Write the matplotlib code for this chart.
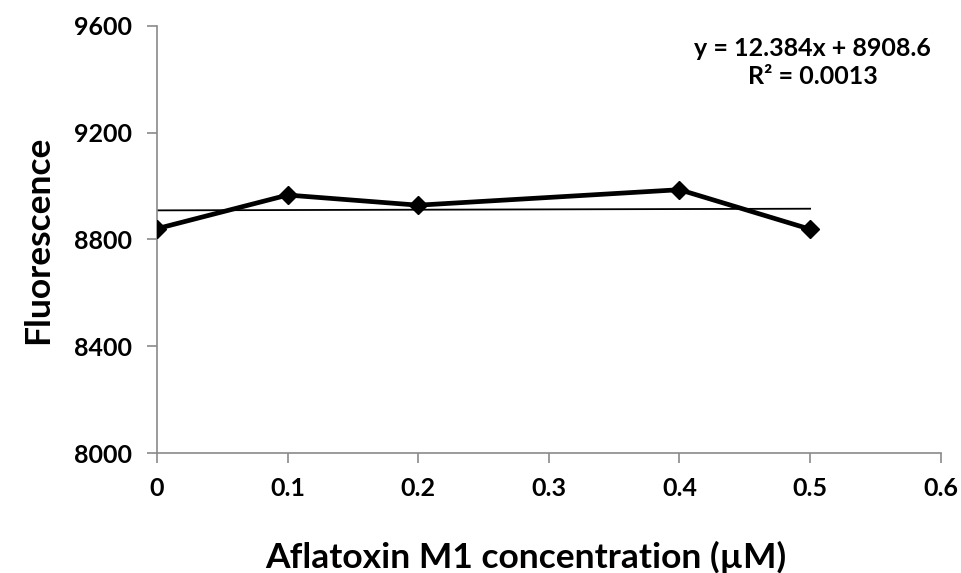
import matplotlib

matplotlib.use("Agg")
import matplotlib.pyplot as plt  # noqa: E402

# AFM1 concentration (uM) and measured fluorescence
concentration = [0.0, 0.1, 0.2, 0.4, 0.5]
fluorescence = [8840, 8966, 8928, 8986, 8838]

# linear trendline reported on the chart
slope = 12.384
intercept = 8908.6
r_squared = 0.0013

x_ticks = [0, 0.1, 0.2, 0.3, 0.4, 0.5, 0.6]
x_tick_labels = ["0", "0.1", "0.2", "0.3", "0.4", "0.5", "0.6"]
y_ticks = [8000, 8400, 8800, 9200, 9600]

plt.rcParams["font.family"] = ["Lato", "DejaVu Sans"]
plt.rcParams["font.weight"] = "bold"

fig = plt.figure(figsize=(9.62, 5.73), dpi=100)
ax = fig.add_axes([0.1632, 0.2094, 0.8147, 0.7457])

ax.plot(concentration, fluorescence, color="black", linewidth=3.4,
        marker="D", markersize=9, zorder=3)

trend_x = [concentration[0], concentration[-1]]
trend_y = [slope * x + intercept for x in trend_x]
ax.plot(trend_x, trend_y, color="black", linewidth=1.3, zorder=2)

ax.set_xlim(0, 0.6)
ax.set_ylim(8000, 9600)
ax.set_xticks(x_ticks)
ax.set_xticklabels(x_tick_labels)
ax.set_yticks(y_ticks)

for side in ("top", "right"):
    ax.spines[side].set_visible(False)
for side in ("left", "bottom"):
    ax.spines[side].set_color("#8a8a8a")
    ax.spines[side].set_linewidth(1.2)

ax.tick_params(axis="both", direction="out", length=7, width=1.2,
               color="#8a8a8a", labelsize=18, labelcolor="black")
ax.tick_params(axis="x", pad=10)
ax.tick_params(axis="y", pad=11)
for label in ax.get_xticklabels() + ax.get_yticklabels():
    label.set_fontweight("bold")

ax.set_xlabel("Aflatoxin M1 concentration (\u00b5M)", fontsize=25.5,
              fontweight="bold")
ax.xaxis.set_label_coords(0.47, -0.205)
ax.set_ylabel("Fluorescence", fontsize=25.5, fontweight="bold", labelpad=14)

ax.text(0.502, 9462, f"y = {slope}x + {intercept}\nR\u00b2 = {r_squared:.4f}",
        ha="center", va="center", fontsize=18, fontweight="bold",
        linespacing=1.25)

fig.savefig("out.png", dpi=100)
